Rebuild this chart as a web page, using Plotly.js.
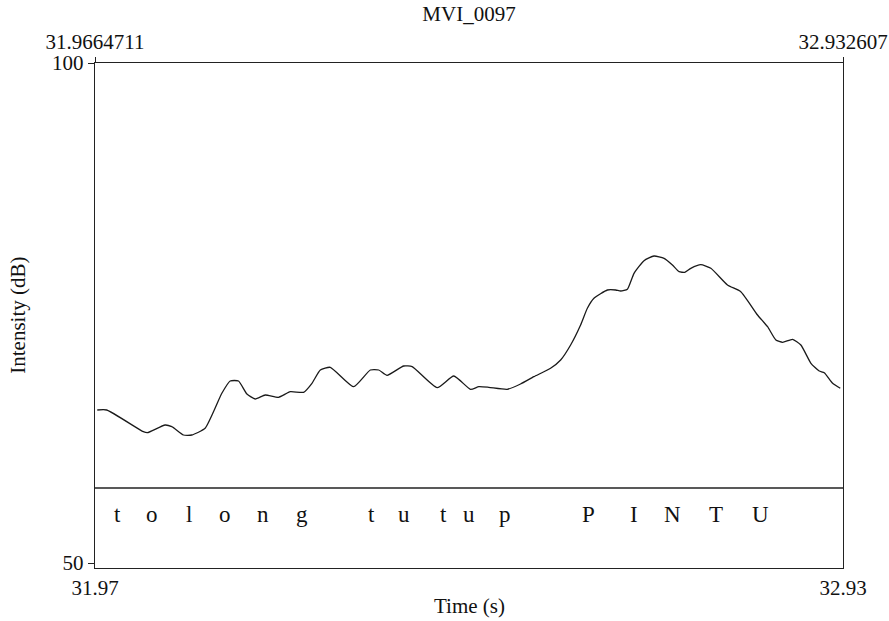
<!DOCTYPE html>
<html>
<head>
<meta charset="utf-8">
<script src="https://cdn.plot.ly/plotly-3.0.1.min.js"></script>
<style>html,body{margin:0;padding:0;background:#fff;}#chart{width:889px;height:621px;}</style>
</head>
<body>
<div id="chart"></div>
<script>
// Intensity contour (time in s, intensity in dB)
const timeS = [31.9694,31.9816,32.0289,32.0341,32.0570,32.0657,32.0807,32.0915,32.1087,32.1303,
  32.1411,32.1518,32.1627,32.1734,32.1863,32.2035,32.2187,32.2359,32.2467,32.2575,
  32.2704,32.3005,32.3221,32.3329,32.3437,32.3652,32.3761,32.4084,32.4299,32.4515,
  32.4622,32.4751,32.4989,32.5161,32.5333,32.5549,32.5679,32.5808,32.5937,32.6024,
  32.6109,32.6283,32.6390,32.6455,32.6541,32.6627,32.6756,32.6885,32.7015,32.7123,
  32.7209,32.7282,32.7360,32.7489,32.7619,32.7834,32.8006,32.8222,32.8352,32.8459,
  32.8546,32.8675,32.8782,32.8912,32.9019,32.9084,32.9192,32.9291];
const intensityDb = [65.3,65.3,63.13,63.03,63.8,63.63,62.8,62.8,63.47,66.97,
  68.2,68.2,66.9,66.4,66.8,66.57,67.13,67.07,67.97,69.3,
  69.57,67.63,69.3,69.3,68.77,69.7,69.63,67.53,68.7,67.37,
  67.63,67.57,67.37,67.9,68.63,69.47,70.3,71.8,73.8,75.47,
  76.47,77.3,77.3,77.2,77.37,78.97,80.23,80.7,80.47,79.8,
  79.13,79.07,79.47,79.83,79.47,77.8,77.13,74.8,73.63,72.3,
  72.07,72.37,71.8,69.97,69.2,69.03,67.97,67.47];

// TextGrid tier labels
const tierLabels = ['t','o','l','o','n','g','t','u','t','u','p','P','I','N','T','U'];
const tierTimes = [31.9953,32.0398,32.0884,32.1346,32.1837,32.2338,32.3230,32.3652,32.4162,32.4493,
  32.4954,32.6041,32.6627,32.7123,32.7683,32.8256];

const tStart = 31.9664711, tEnd = 32.932607;
const xTickTop = ['31.9664711','32.932607'];
const xTickBottom = ['31.97','32.93'];
const yTicks = [50, 100];
const tierTopDb = 57.5;

const FONT = "'Liberation Serif', 'Times New Roman', serif";
const FS = 21;

const traces = [
  {x: timeS, y: intensityDb, type: 'scatter', mode: 'lines',
   line: {color: '#1a1a1a', width: 1.3, shape: 'spline', smoothing: 0.5}, hoverinfo: 'skip', showlegend: false},
  {x: [tStart, tEnd], y: [null, null], xaxis: 'x2', yaxis: 'y', type: 'scatter',
   mode: 'lines', showlegend: false, hoverinfo: 'skip'}
];

const annotations = tierLabels.map((s, i) => ({
  x: tierTimes[i], y: 54.9, xref: 'x', yref: 'y', text: s, showarrow: false,
  font: {family: FONT, size: 23, color: '#111'}, xanchor: 'center', yanchor: 'middle'
}));
annotations.push({x: 0.5, y: -0.075, xref: 'paper', yref: 'paper', text: 'Time (s)',
  showarrow: false, font: {family: FONT, size: FS, color: '#111'}, xanchor: 'center', yanchor: 'middle'});
annotations.push({x: -0.104, y: 0.5, xref: 'paper', yref: 'paper', text: 'Intensity (dB)',
  showarrow: false, textangle: -90, font: {family: FONT, size: FS, color: '#111'}, xanchor: 'center', yanchor: 'middle'});

const layout = {
  width: 889, height: 621,
  margin: {l: 95, r: 46, t: 63, b: 53},
  paper_bgcolor: '#fff', plot_bgcolor: '#fff',
  font: {family: FONT, size: FS, color: '#111'},
  title: {text: 'MVI_0097', x: 0.5, xref: 'paper', y: 1 - 14/621, yref: 'container',
          xanchor: 'center', yanchor: 'middle', font: {family: FONT, size: FS, color: '#111'}, pad: {t:0,b:0,l:0,r:0}},
  xaxis: {range: [tStart, tEnd], tickvals: [tStart, tEnd], ticktext: xTickBottom,
          showline: true, linecolor: '#222', linewidth: 1.3, mirror: true,
          ticks: '', showgrid: false, zeroline: false, tickfont: {family: FONT, size: FS}},
  xaxis2: {range: [tStart, tEnd], overlaying: 'x', side: 'top', matches: 'x',
           tickvals: [tStart, tEnd], ticktext: xTickTop, ticks: 'outside', ticklen: 5,
           tickcolor: '#222', showgrid: false, zeroline: false, showline: false, tickfont: {family: FONT, size: FS}},
  yaxis: {range: [49.5, 100], tickvals: yTicks, ticktext: yTicks.map(String),
          ticks: 'outside', ticklen: 6, tickcolor: '#222',
          showline: true, linecolor: '#222', linewidth: 1.3, mirror: true,
          showgrid: false, zeroline: false, tickfont: {family: FONT, size: FS}},
  shapes: [{type: 'line', xref: 'paper', yref: 'y', x0: 0, x1: 1, y0: tierTopDb, y1: tierTopDb,
            line: {color: '#222', width: 1.3}}],
  annotations: annotations
};

Plotly.newPlot('chart', traces, layout, {displayModeBar: false, staticPlot: true});
</script>
</body>
</html>
